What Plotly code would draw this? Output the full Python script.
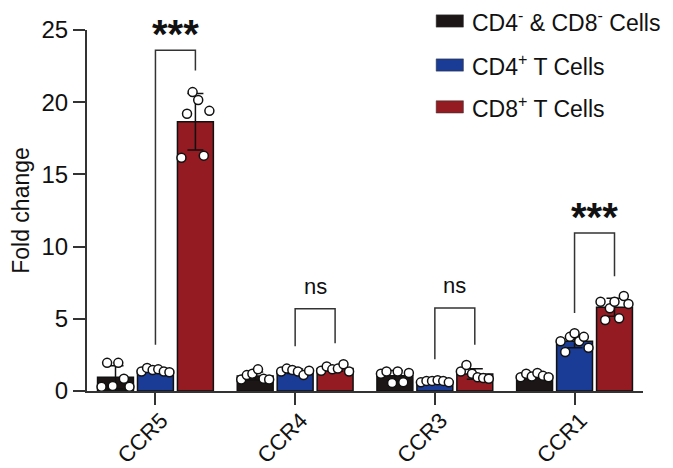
import numpy as np
import plotly.graph_objects as go

categories = ["CCR5", "CCR4", "CCR3", "CCR1"]
series_names = ["CD4<sup>-</sup> & CD8<sup>-</sup> Cells", "CD4<sup>+</sup> T Cells", "CD8<sup>+</sup> T Cells"]
colors = ["#1c1716", "#1b3c96", "#941b21"]

# individual replicate values (fold change), left-to-right as they appear
dn_points = [
    [0.3, 1.95, 0.35, 1.95, 0.85, 0.3],
    [0.8, 1.1, 1.2, 1.5, 0.85, 0.8],
    [1.2, 1.35, 0.55, 1.35, 0.6, 1.25],
    [0.95, 1.2, 1.0, 1.25, 1.05, 0.95],
]
cd4_points = [
    [1.35, 1.6, 1.45, 1.5, 1.35, 1.3],
    [1.35, 1.55, 1.45, 1.35, 1.1, 1.4],
    [0.6, 0.7, 0.7, 0.75, 0.7, 0.6],
    [3.45, 2.7, 3.75, 4.0, 3.45, 3.75, 3.0],
]
cd8_points = [
    [16.15, 19.2, 20.7, 20.15, 16.3, 19.4],
    [1.4, 1.7, 1.5, 1.55, 1.85, 1.35],
    [1.35, 1.8, 1.2, 0.95, 0.9, 0.85],
    [6.18, 4.92, 5.73, 6.18, 5.03, 6.58, 6.02],
]
all_points = [dn_points, cd4_points, cd8_points]

# significance brackets (CD4+ vs CD8+)
bracket_top = [23.6, 5.7, 5.75, 10.95]
bracket_left_bottom = [3.2, 3.1, 2.2, 5.4]
bracket_right_bottom = [22.2, 3.3, 3.2, 7.95]
sig_labels = ["***", "ns", "ns", "***"]

y_ticks = [0, 5, 10, 15, 20, 25]

offsets = [-0.286, 0.0, 0.286]
bar_width = 0.257

fig = go.Figure()
idx = np.arange(len(categories))

for s, pts in enumerate(all_points):
    means = [float(np.mean(p)) for p in pts]
    sds = [float(np.std(p, ddof=1)) for p in pts]
    fig.add_trace(go.Bar(
        x=idx + offsets[s], y=means, width=bar_width,
        marker=dict(color=colors[s], line=dict(color="#111111", width=1.5)),
        error_y=dict(type="data", array=sds, symmetric=True, color="#111111", thickness=1.5, width=8),
        showlegend=False, name=series_names[s],
    ))

for s, pts in enumerate(all_points):
    xs, ys = [], []
    for g, p in enumerate(pts):
        n = len(p)
        jit = np.linspace(-0.1, 0.1, n)
        xs.extend(list(g + offsets[s] + jit))
        ys.extend(p)
    fig.add_trace(go.Scatter(
        x=xs, y=ys, mode="markers",
        marker=dict(size=9, color="white", line=dict(color="#111111", width=1.5)),
        showlegend=False, hoverinfo="skip",
    ))

for g in range(len(categories)):
    xl = g + offsets[1]
    xr = g + offsets[2]
    fig.add_trace(go.Scatter(
        x=[xl, xl, xr, xr],
        y=[bracket_left_bottom[g], bracket_top[g], bracket_top[g], bracket_right_bottom[g]],
        mode="lines", line=dict(color="#333333", width=1.5),
        showlegend=False, hoverinfo="skip",
    ))
    is_star = sig_labels[g].startswith("*")
    fig.add_annotation(
        x=(xl + xr) / 2, y=bracket_top[g],
        text=("<b>%s</b>" % sig_labels[g]) if is_star else sig_labels[g],
        showarrow=False, xanchor="center", yanchor="middle",
        font=dict(size=40 if is_star else 22, color="#111111"),
        yshift=16 if is_star else 22,
    )

# manual legend (wide swatches like the reference)
leg_y = [1.025, 0.903, 0.787]
for s in range(3):
    fig.add_shape(type="rect", xref="paper", yref="paper",
                  x0=0.628, x1=0.677, y0=leg_y[s] - 0.017, y1=leg_y[s] + 0.017,
                  fillcolor=colors[s], line=dict(color="#333333", width=0.5))
    fig.add_annotation(xref="paper", yref="paper", x=0.688, y=leg_y[s], text=series_names[s],
                       showarrow=False, xanchor="left", yanchor="middle",
                       font=dict(size=23, color="#111111"))

# the page body adds an 8px offset, so the figure is sized to the remaining viewport
fig.update_layout(
    width=665, height=460,
    margin=dict(l=79, r=30, t=22, b=77),
    paper_bgcolor="white", plot_bgcolor="white",
    font=dict(family="Liberation Sans, Arial, sans-serif", color="#111111"),
    barmode="overlay",
)
fig.update_xaxes(
    range=[-0.49, 3.49], tickmode="array", tickvals=list(idx), ticktext=categories,
    tickangle=-45, tickfont=dict(size=22), showline=True, linecolor="#333333", linewidth=2,
    ticks="outside", ticklen=12, tickwidth=2, tickcolor="#333333", showgrid=False, zeroline=False,
    automargin=False, ticklabelstandoff=-6, ticklabelshift=6,
)
fig.update_yaxes(
    range=[0, 25], tickmode="array", tickvals=y_ticks, tickfont=dict(size=24),
    showline=True, linecolor="#333333", linewidth=2, ticks="outside", ticklen=12, tickwidth=2,
    tickcolor="#333333", showgrid=False, zeroline=False, automargin=False,
    title=dict(text="Fold change", font=dict(size=23), standoff=12),
)

fig.write_html("out.html")
